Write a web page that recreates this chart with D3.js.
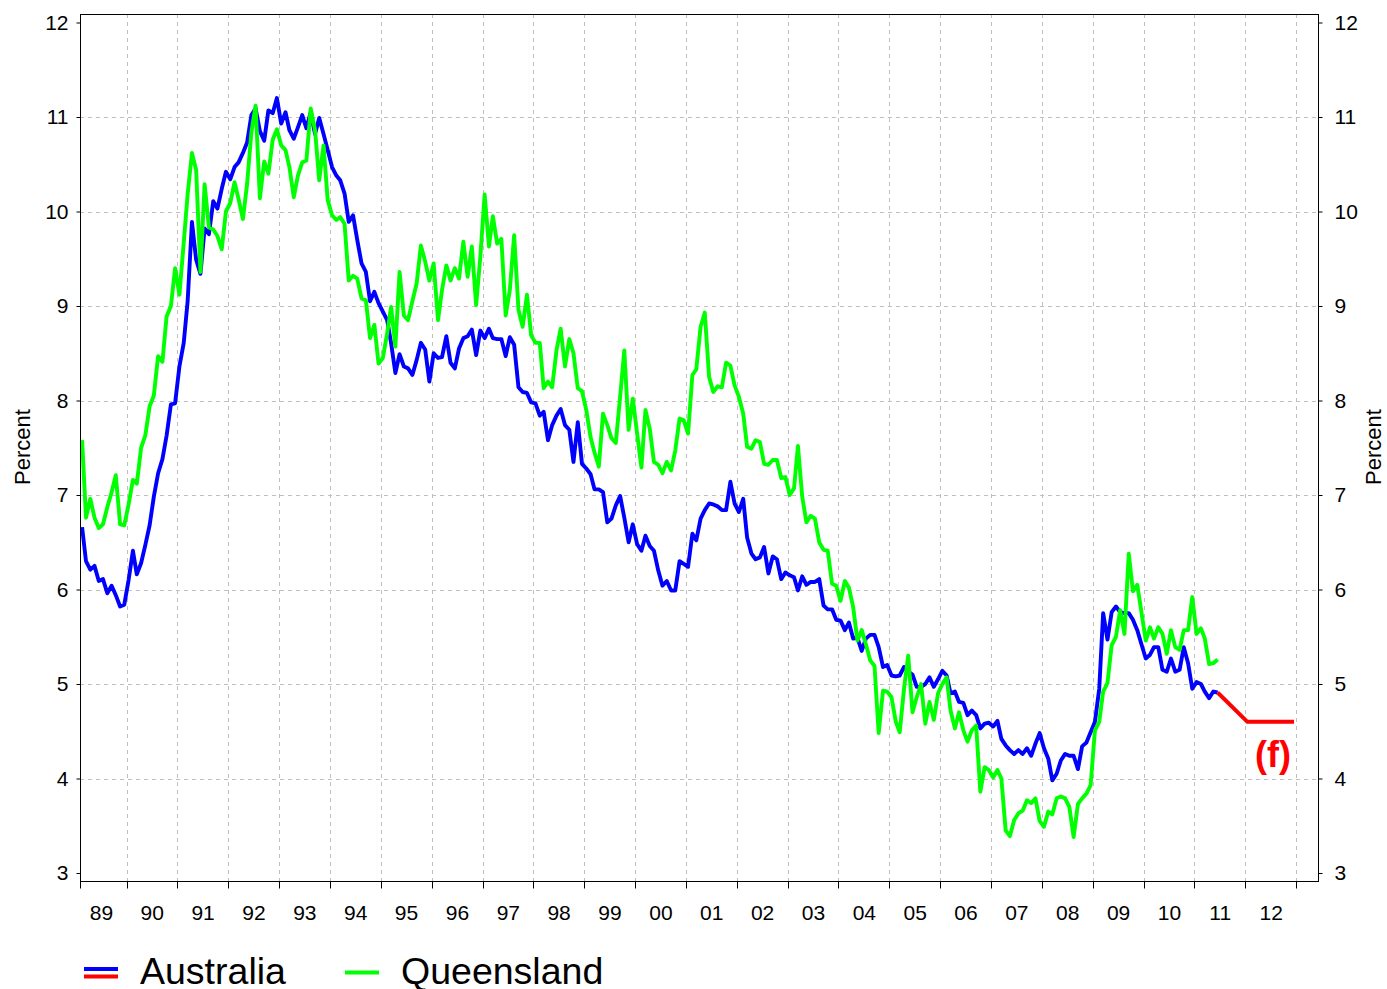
<!DOCTYPE html>
<html>
<head>
<meta charset="utf-8">
<script src="https://cdn.jsdelivr.net/npm/d3@7"></script>
<style>
  html, body { margin: 0; padding: 0; background: #fff; }
  svg { display: block; font-family: "Liberation Sans", Arial, sans-serif; }
</style>
</head>
<body>
<svg id="chart" width="1387" height="989"></svg>
<script>
// monthly unemployment rate (%), first value is Feb 1989
const firstMonth = "1989-02";

const australia = [
  6.66, 6.30, 6.21, 6.25, 6.09, 6.11, 5.96, 6.04, 5.94, 5.82, 5.84, 6.10,
  6.41, 6.16, 6.28, 6.47, 6.68, 6.98, 7.23, 7.38, 7.63, 7.96, 7.97, 8.36,
  8.61, 9.05, 9.89, 9.49, 9.34, 9.82, 9.76, 10.11, 10.03, 10.24, 10.42, 10.34,
  10.47, 10.52, 10.62, 10.73, 11.02, 11.09, 10.85, 10.75, 11.07, 11.04, 11.20, 10.93,
  11.05, 10.86, 10.77, 10.89, 11.02, 10.88, 11.05, 10.82, 10.99, 10.82, 10.65, 10.47,
  10.38, 10.33, 10.19, 9.89, 9.96, 9.70, 9.45, 9.36, 9.05, 9.15, 9.03, 8.94,
  8.85, 8.61, 8.29, 8.49, 8.36, 8.34, 8.27, 8.43, 8.61, 8.54, 8.20, 8.50,
  8.45, 8.46, 8.68, 8.40, 8.34, 8.55, 8.66, 8.68, 8.75, 8.48, 8.74, 8.66,
  8.76, 8.66, 8.65, 8.65, 8.47, 8.67, 8.59, 8.14, 8.09, 8.08, 7.98, 7.97,
  7.84, 7.88, 7.58, 7.74, 7.84, 7.91, 7.74, 7.69, 7.35, 7.77, 7.33, 7.28,
  7.22, 7.06, 7.06, 7.03, 6.71, 6.75, 6.89, 6.99, 6.76, 6.50, 6.69, 6.48,
  6.41, 6.57, 6.46, 6.41, 6.20, 6.04, 6.09, 5.99, 5.99, 6.30, 6.27, 6.24,
  6.59, 6.52, 6.75, 6.84, 6.91, 6.90, 6.88, 6.84, 6.84, 7.14, 6.91, 6.82,
  6.96, 6.55, 6.38, 6.32, 6.34, 6.45, 6.17, 6.35, 6.32, 6.11, 6.18, 6.15,
  6.13, 5.99, 6.14, 6.05, 6.08, 6.08, 6.11, 5.83, 5.79, 5.79, 5.68, 5.67,
  5.57, 5.65, 5.48, 5.49, 5.35, 5.48, 5.52, 5.52, 5.39, 5.18, 5.20, 5.09,
  5.08, 5.09, 5.18, 5.13, 5.10, 4.97, 4.97, 5.00, 5.07, 4.97, 5.05, 5.14,
  5.09, 4.90, 4.92, 4.81, 4.80, 4.67, 4.72, 4.67, 4.53, 4.58, 4.59, 4.55,
  4.61, 4.42, 4.35, 4.30, 4.26, 4.30, 4.26, 4.32, 4.24, 4.37, 4.48, 4.32,
  4.21, 3.98, 4.05, 4.19, 4.26, 4.24, 4.24, 4.10, 4.34, 4.38, 4.49, 4.60,
  4.95, 5.75, 5.47, 5.76, 5.82, 5.76, 5.75, 5.75, 5.68, 5.57, 5.42, 5.27,
  5.31, 5.39, 5.39, 5.15, 5.13, 5.27, 5.13, 5.15, 5.39, 5.22, 4.95, 5.02,
  5.00, 4.92, 4.85, 4.92, 4.91
];

const queensland = [
  7.58, 6.76, 6.96, 6.76, 6.65, 6.69, 6.87, 7.03, 7.21, 6.69, 6.68, 6.90,
  7.16, 7.12, 7.50, 7.63, 7.94, 8.05, 8.47, 8.41, 8.89, 9.00, 9.40, 9.12,
  9.67, 10.18, 10.62, 10.44, 9.36, 10.29, 9.83, 9.81, 9.74, 9.60, 10.00, 10.09,
  10.31, 10.13, 9.92, 10.29, 10.84, 11.12, 10.14, 10.53, 10.40, 10.76, 10.87, 10.70,
  10.65, 10.47, 10.15, 10.38, 10.52, 10.54, 11.09, 10.86, 10.33, 10.70, 10.12, 9.96,
  9.91, 9.94, 9.87, 9.27, 9.32, 9.29, 9.08, 9.06, 8.66, 8.80, 8.39, 8.45,
  8.71, 8.99, 8.57, 9.36, 8.90, 8.85, 9.05, 9.24, 9.64, 9.47, 9.27, 9.45,
  8.85, 9.17, 9.43, 9.27, 9.40, 9.29, 9.68, 9.31, 9.63, 9.01, 9.52, 10.18,
  9.63, 9.95, 9.66, 9.71, 8.90, 9.17, 9.75, 8.96, 8.78, 9.12, 8.69, 8.61,
  8.61, 8.13, 8.20, 8.14, 8.53, 8.76, 8.36, 8.65, 8.50, 8.13, 8.10, 7.90,
  7.61, 7.45, 7.30, 7.86, 7.74, 7.60, 7.55, 8.04, 8.53, 7.69, 8.02, 7.65,
  7.29, 7.90, 7.70, 7.35, 7.32, 7.23, 7.35, 7.26, 7.47, 7.81, 7.79, 7.65,
  8.27, 8.33, 8.78, 8.93, 8.25, 8.09, 8.15, 8.14, 8.40, 8.37, 8.16, 8.04,
  7.86, 7.51, 7.49, 7.58, 7.56, 7.33, 7.32, 7.37, 7.37, 7.18, 7.19, 7.00,
  7.07, 7.52, 6.98, 6.71, 6.78, 6.75, 6.50, 6.42, 6.41, 6.06, 6.04, 5.88,
  6.09, 6.02, 5.81, 5.46, 5.57, 5.42, 5.25, 5.19, 4.48, 4.93, 4.92, 4.86,
  4.60, 4.49, 4.95, 5.30, 4.70, 4.86, 5.00, 4.58, 4.81, 4.62, 4.90, 5.00,
  5.07, 4.72, 4.53, 4.70, 4.51, 4.39, 4.51, 4.56, 3.86, 4.12, 4.09, 4.01,
  4.09, 4.00, 3.45, 3.39, 3.56, 3.63, 3.66, 3.77, 3.74, 3.79, 3.55, 3.49,
  3.65, 3.62, 3.79, 3.81, 3.79, 3.70, 3.38, 3.73, 3.79, 3.84, 3.93, 4.51,
  4.60, 4.92, 5.01, 5.41, 5.50, 5.78, 5.53, 6.38, 5.98, 6.05, 5.76, 5.46,
  5.60, 5.48, 5.60, 5.53, 5.32, 5.57, 5.39, 5.36, 5.57, 5.57, 5.92, 5.53,
  5.59, 5.48, 5.21, 5.22, 5.26
];

// Australian forecast (f)
const forecastMonths = ["2011-06", "2012-01", "2012-12"];
const forecastValues = [4.91, 4.60, 4.60];

const yearLabels = ["89", "90", "91", "92", "93", "94", "95", "96", "97", "98", "99", "00",
                    "01", "02", "03", "04", "05", "06", "07", "08", "09", "10", "11", "12"];
const yTicks = [3, 4, 5, 6, 7, 8, 9, 10, 11, 12];

const legendItems = [
  { name: "Australia", colors: ["#0000ff", "#ff0000"] },
  { name: "Queensland", colors: ["#00ff00"] }
];

// frame of the plot
const plotLeft = 80, plotRight = 1318, plotTop = 14, plotBottom = 881;

const svg = d3.select("#chart");
const parseMonth = d3.utcParse("%Y-%m");
const start = parseMonth(firstMonth);
// values are plotted in the middle of their month
const midMonth = d => d3.utcDay.offset(d, 15);

const x = d3.scaleUtc()
  .domain([start, Date.UTC(2013, 5, 6)])
  .range([plotLeft, plotRight]);
const y = d3.scaleLinear().domain([3, 12]).range([873, 22.5]);

const toSeries = vals => vals.map((v, i) => ({ date: midMonth(d3.utcMonth.offset(start, i)), value: v }));
const ausData = toSeries(australia);
const qldData = toSeries(queensland);
const fcData = forecastMonths.map((m, i) => ({ date: midMonth(parseMonth(m)), value: forecastValues[i] }));

const yearStarts = d3.range(1990, 2014).map(yr => new Date(Date.UTC(yr, 0, 1)));

// grid
const grid = svg.append("g").attr("stroke", "#c0c0c0").attr("stroke-dasharray", "4,4").attr("stroke-width", 1);
grid.selectAll("line.h").data(yTicks.filter(t => t > 3 && t < 12)).join("line")
  .attr("class", "h")
  .attr("x1", plotLeft).attr("x2", plotRight)
  .attr("y1", d => Math.round(y(d)) + 0.5).attr("y2", d => Math.round(y(d)) + 0.5);
grid.selectAll("line.v").data(yearStarts).join("line")
  .attr("class", "v")
  .attr("y1", plotTop).attr("y2", plotBottom)
  .attr("x1", d => Math.round(x(d)) + 0.5).attr("x2", d => Math.round(x(d)) + 0.5);

// lines
const line = d3.line().x(d => x(d.date)).y(d => y(d.value));
const drawLine = (data, color) => svg.append("path").datum(data)
  .attr("fill", "none").attr("stroke", color).attr("stroke-width", 3.9)
  .attr("stroke-linejoin", "round").attr("d", line);

drawLine(ausData, "#0000ff");
drawLine(fcData, "#ff0000");
drawLine(qldData, "#00ff00");

svg.append("text")
  .attr("x", 1273).attr("y", 767)
  .attr("text-anchor", "middle").attr("fill", "#ff0000")
  .attr("font-weight", "bold").attr("font-size", 36)
  .text("(f)");

// frame
svg.append("rect")
  .attr("x", plotLeft + 0.5).attr("y", plotTop + 0.5)
  .attr("width", plotRight - plotLeft).attr("height", plotBottom - plotTop)
  .attr("fill", "none").attr("stroke", "#000").attr("stroke-width", 1);

// y axes, both sides
const yLeft = d3.axisLeft(y).tickValues(yTicks).tickSize(4).tickPadding(8).tickFormat(d3.format("d"));
const yRight = d3.axisRight(y).tickValues(yTicks).tickSize(4).tickPadding(12).tickFormat(d3.format("d"));
[[yLeft, plotLeft], [yRight, plotRight]].forEach(([ax, pos]) => {
  const g = svg.append("g").attr("transform", `translate(${pos + 0.5},0)`).call(ax);
  g.select(".domain").remove();
  g.selectAll("text").attr("font-size", 21).attr("fill", "#000")
    .attr("font-family", "Liberation Sans, Arial, sans-serif");
});

// x axis: ticks at year boundaries, labels mid-year
const xg = svg.append("g").attr("transform", `translate(0,${plotBottom + 0.5})`);
xg.selectAll("line").data([start].concat(yearStarts)).join("line")
  .attr("x1", d => Math.round(x(d)) + 0.5).attr("x2", d => Math.round(x(d)) + 0.5)
  .attr("y1", 0).attr("y2", 7).attr("stroke", "#000");
xg.selectAll("text").data(yearLabels).join("text")
  .attr("x", (d, i) => x(new Date(Date.UTC(1989 + i, 6, 5))))
  .attr("y", 38).attr("text-anchor", "middle").attr("font-size", 21)
  .text(d => d);

// axis titles
[[30, 447], [1381, 447]].forEach(([px, py]) => {
  svg.append("text")
    .attr("transform", `translate(${px},${py}) rotate(-90)`)
    .attr("text-anchor", "middle").attr("font-size", 22)
    .text("Percent");
});

// legend
const legend = svg.append("g");
const legendX = [84, 345];
legendItems.forEach((item, i) => {
  const g = legend.append("g").attr("transform", `translate(${legendX[i]},0)`);
  const n = item.colors.length;
  item.colors.forEach((c, j) => {
    const ly = n === 1 ? 972.5 : 969 + j * 7.5;
    g.append("line").attr("x1", 0).attr("x2", 34).attr("y1", ly).attr("y2", ly)
      .attr("stroke", c).attr("stroke-width", 4);
  });
  g.append("text").attr("x", 56).attr("y", 984).attr("font-size", 37.5).text(item.name);
});
</script>
</body>
</html>
